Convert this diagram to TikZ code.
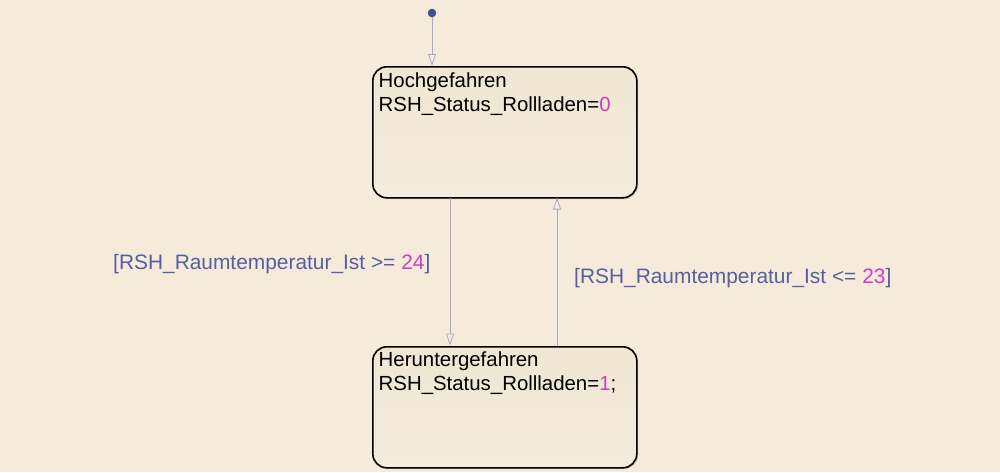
\documentclass[tikz,border=0pt]{standalone}
\usepackage{fontspec}
\setmainfont{Liberation Sans}
\usetikzlibrary{arrows.meta,shadows}
\definecolor{bg}{HTML}{F6EBDA}
\definecolor{lbl}{HTML}{5560A2}
\definecolor{num}{HTML}{CC40C0}
\definecolor{trans}{HTML}{A6A8C8}
\definecolor{dotc}{HTML}{4A4C9A}
\definecolor{stop}{HTML}{F0E6D3}
\definecolor{sbot}{HTML}{F3EBDC}
\tikzset{
  statebox/.style={draw=black, line width=1.6pt, rounded corners=14pt,
    top color=stop, bottom color=sbot, minimum width=264pt, minimum height=131pt,
    inner sep=0pt, anchor=north west,
    drop shadow={shadow xshift=1.2pt, shadow yshift=-1.2pt, opacity=0.35, fill=black!60}},
  statetext/.style={anchor=north west, align=left, inner sep=0pt,
    font=\fontsize{20.4}{24}\selectfont, text=black},
  guard/.style={anchor=base west, inner sep=0pt, text=lbl,
    font=\fontsize{20.9}{24}\selectfont},
  transline/.style={draw=trans, line width=0.8pt,
    -{Triangle[open, length=12pt, width=8pt, line width=0.8pt]}},
}
\begin{document}
\begin{tikzpicture}[x=1pt,y=-1pt]
\fill[bg] (0,0) rectangle (1000,472);
\useasboundingbox (0,0) rectangle (1000,472);

\node[statebox] (hoch) at (372,66) {};
\node[statebox, minimum height=121pt] (runter) at (372,346) {};

\node[statetext] (hochtxt) at (378.5,72.5) {Hochgefahren\\RSH\_Status\_Rollladen=\textcolor{num}{0}};
\node[statetext] (runtertxt) at (378.5,351.5) {Heruntergefahren\\RSH\_Status\_Rollladen=\textcolor{num}{1};};

\fill[dotc] (432,13) circle (4.3pt);
\coordinate (start) at (432,17);
\coordinate (hochin) at (432,66);
\draw[transline] (start) -- (hochin);

\coordinate (downA) at (450,197.5);
\coordinate (downB) at (450,345.5);
\draw[transline] (downA) -- (downB);

\coordinate (upA) at (557,345.5);
\coordinate (upB) at (557,197.5);
\draw[transline] (upA) -- (upB);

\node[guard] (g1) at (113,269) {[RSH\_Raumtemperatur\_Ist >= \textcolor{num}{24}]};
\node[guard] (g2) at (574,283) {[RSH\_Raumtemperatur\_Ist <= \textcolor{num}{23}]};
\end{tikzpicture}
\end{document}
